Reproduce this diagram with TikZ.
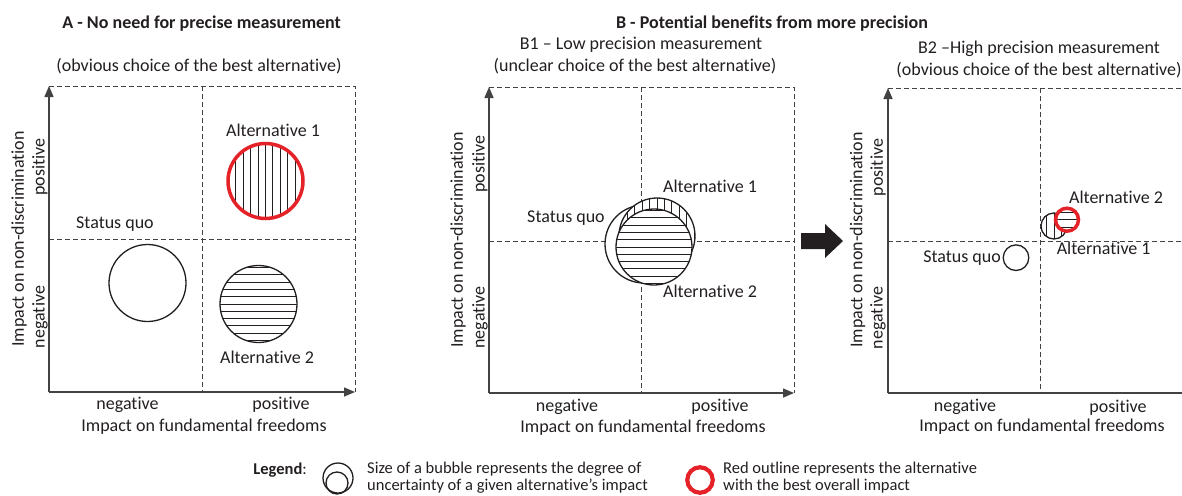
\documentclass[tikz,border=0pt]{standalone}
\usepackage{fontspec}
\setmainfont{Carlito}[Ligatures=NoCommon]
\usetikzlibrary{arrows.meta}
\definecolor{ink}{HTML}{231F20}
\definecolor{bestred}{HTML}{E52228}
\begin{document}
\begin{tikzpicture}[x=1pt,y=-1pt,
  lbl/.style={font=\fontsize{18}{20}\selectfont, text=ink, inner sep=0pt},
  ttl/.style={font=\fontsize{18}{20}\selectfont\bfseries, text=ink, inner sep=0pt},
  leg/.style={font=\fontsize{16.5}{18}\selectfont, text=ink, inner sep=0pt},
  ylbl/.style={lbl, rotate=90},
  axisline/.style={draw=ink!85, line width=1.5pt, -{Triangle[length=11pt,width=9pt]}},
  dashline/.style={draw=ink!85, line width=1pt, dash pattern=on 5pt off 3pt},
  bubble/.style={circle, draw=ink, line width=1.3pt, fill=white, inner sep=0pt},
  best/.style={draw=bestred, line width=3.5pt},
  hatchline/.style={draw=ink, line width=1pt},
  vhatch/.style={path picture={\foreach \k in {-7,...,7}{\draw[hatchline] ([xshift=\k*7.4pt]path picture bounding box.north) -- ([xshift=\k*7.4pt]path picture bounding box.south);}}},
  hhatch/.style={path picture={\foreach \k in {-7,...,7}{\draw[hatchline] ([yshift=\k*7.3pt]path picture bounding box.west) -- ([yshift=\k*7.3pt]path picture bounding box.east);}}},
]
\useasboundingbox (0,0) rectangle (1182,495);
\clip (0,0) rectangle (1182,495);

% ---------------- Panel A ----------------
\coordinate (aO) at (49,392);
\coordinate (aT) at (49,86);
\coordinate (aR) at (355,392);
\coordinate (aTR) at (355,86);
\coordinate (aMT) at (202,86);
\coordinate (aMB) at (202,392);
\coordinate (aHL) at (49,239);
\coordinate (aHR) at (355,239);
\draw[dashline] (aT) -- (aTR) -- (aR);
\draw[dashline] (aMT) -- (aMB);
\draw[dashline] (aHL) -- (aHR);
\draw[axisline] (aO) -- (aT);
\draw[axisline] (aO) -- (aR);

\node[ttl] (titleA) at (201.7,24) {A - No need for precise measurement};
\node[lbl] (capA) at (199,66) {(obvious choice of the best alternative)};

\node[bubble, best, vhatch, minimum size=75pt] (aAlt1) at (265.5,181) {};
\node[bubble, minimum size=77pt] (aSQ) at (147.5,283) {};
\node[bubble, hhatch, minimum size=77pt] (aAlt2) at (258.5,304) {};

\node[lbl] (aAlt1l) at (273,130) {Alternative 1};
\node[lbl] (aSQl) at (115,224) {Status quo};
\node[lbl] (aAlt2l) at (267,357.6) {Alternative 2};
\node[lbl] (aNeg) at (127.5,405) {negative};
\node[lbl] (aPos) at (281,405) {positive};
\node[lbl] (aX) at (204,427) {Impact on fundamental freedoms};
\node[ylbl] (aY) at (19,239) {Impact on non-discrimination};
\node[ylbl] (aYp) at (40,167) {positive};
\node[ylbl] (aYn) at (40,317) {negative};

% ---------------- Title B ----------------
\node[ttl] (titleB) at (772,24) {B - Potential benefits from more precision};

% ---------------- Panel B1 ----------------
\coordinate (bO) at (489,393);
\coordinate (bT) at (489,87);
\coordinate (bR) at (794,393);
\coordinate (bTR) at (794,87);
\coordinate (bMT) at (641,87);
\coordinate (bMB) at (641,393);
\coordinate (bHL) at (489,241);
\coordinate (bHR) at (794,241);
\draw[dashline] (bT) -- (bTR) -- (bR);
\draw[dashline] (bMT) -- (bMB);
\draw[dashline] (bHL) -- (bHR);
\draw[axisline] (bO) -- (bT);
\draw[axisline] (bO) -- (bR);

\node[lbl] (titleB1) at (641,45) {B1 – Low precision measurement};
\node[lbl] (capB1) at (635,66) {(unclear choice of the best alternative)};

\node[bubble, minimum size=78pt] (bSQ) at (644,244) {};
\node[bubble, vhatch, minimum size=76pt] (bAlt1) at (657,236) {};
\node[bubble, hhatch, minimum size=76pt] (bAlt2) at (654,247) {};

\node[lbl] (bAlt1l) at (710,186.7) {Alternative 1};
\node[lbl] (bSQl) at (566,218) {Status quo};
\node[lbl] (bAlt2l) at (710,291) {Alternative 2};
\node[lbl] (bNeg) at (567,407) {negative};
\node[lbl] (bPos) at (720,407) {positive};
\node[lbl] (bX) at (643,427.7) {Impact on fundamental freedoms};
\node[ylbl] (bY) at (458,240) {Impact on non-discrimination};
\node[ylbl] (bYp) at (480,164) {positive};
\node[ylbl] (bYn) at (480,317.5) {negative};

% ---------------- Block arrow ----------------
\fill[ink] (801,233) -- (825,233) -- (825,224) -- (843,241) -- (825,258) -- (825,249) -- (801,249) -- cycle;

% ---------------- Panel B2 ----------------
\coordinate (cO) at (888,393);
\coordinate (cT) at (888,88);
\coordinate (cR) at (1193,393);
\coordinate (cTR) at (1193,88);
\coordinate (cMT) at (1040,88);
\coordinate (cMB) at (1040,393);
\coordinate (cHL) at (888,241);
\coordinate (cHR) at (1193,241);
\draw[dashline] (cT) -- (cTR) -- (cR);
\draw[dashline] (cMT) -- (cMB);
\draw[dashline] (cHL) -- (cHR);
\draw[axisline] (cO) -- (cT);
\draw[axisline] (cO) -- (cR);

\node[lbl] (titleB2) at (1039,49) {B2 –High precision measurement};
\node[lbl] (capB2) at (1039,70) {(obvious choice of the best alternative)};

\node[bubble, minimum size=25.6pt] (cSQ) at (1016,257.7) {};
\node[bubble, vhatch, minimum size=26pt] (cAlt1) at (1054,226) {};
\node[bubble, best, hhatch, minimum size=23pt] (cAlt2) at (1067,219.7) {};

\node[lbl] (cAlt2l) at (1116,197.7) {Alternative 2};
\node[lbl] (cAlt1l) at (1103.7,248.3) {Alternative 1};
\node[lbl, anchor=east] (cSQl) at (1001,257.7) {Status quo};
\node[lbl] (cNeg) at (965,406.7) {negative};
\node[lbl] (cPos) at (1118,408) {positive};
\node[lbl] (cX) at (1042,427) {Impact on fundamental freedoms};
\node[ylbl] (cY) at (857.5,240) {Impact on non-discrimination};
\node[ylbl] (cYp) at (878,167.5) {positive};
\node[ylbl] (cYn) at (878,318) {negative};

% ---------------- Legend ----------------
\node[leg, anchor=base east] (legT) at (307,474) {\textbf{Legend}:};
\node[bubble, fill=none, line width=1.3pt, minimum size=30pt] (legOuter) at (338,478) {};
\node[bubble, fill=none, line width=1.3pt, minimum size=22pt] (legInner) at (337,483) {};
\node[leg, anchor=base west] (legA1) at (367,473) {Size of a bubble represents the degree of};
\node[leg, anchor=base west] (legA2) at (367,490.5) {uncertainty of a given alternative's impact};
\node[bubble, best, fill=none, line width=4.2pt, minimum size=25.5pt] (legRed) at (700,480) {};
\node[leg, anchor=base west] (legB1) at (723,473) {Red outline represents the alternative};
\node[leg, anchor=base west] (legB2) at (723,490.5) {with the best overall impact};
\end{tikzpicture}
\end{document}
